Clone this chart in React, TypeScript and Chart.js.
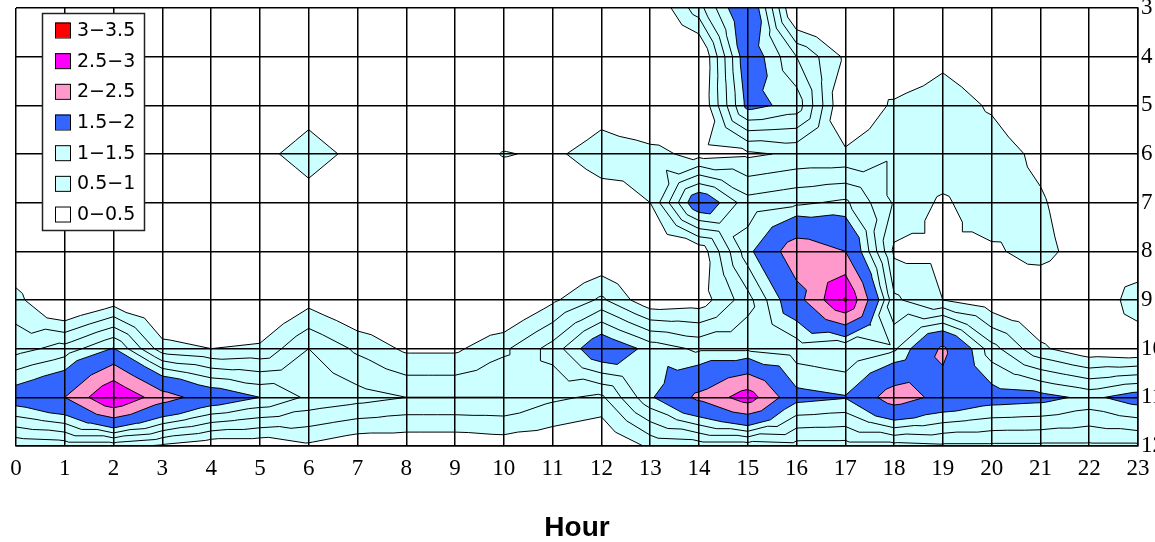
import React, { useEffect, useRef } from "react";
import { Chart, registerables } from "chart.js";

Chart.register(...registerables);

// ---- data ----
const HOURS = [0, 1, 2, 3, 4, 5, 6, 7, 8, 9, 10, 11, 12, 13, 14, 15, 16, 17, 18, 19, 20, 21, 22, 23];
const ROWS = [3, 4, 5, 6, 7, 8, 9, 10, 11, 12];

// values per row (one per hour)
const ROW_3 = [0, 0, 0, 0, 0, 0, 0, 0, 0, 0, 0, 0, 0, 0.2, 0.9, 1.9, 0.1, 0, 0, 0, 0, 0, 0, 0];
const ROW_4 = [0, 0, 0, 0, 0, 0, 0, 0, 0, 0, 0, 0, 0, 0.05, 0.15, 1.75, 1.0, 0.45, 0.15, 0.4, 0.2, 0, 0, 0];
const ROW_5 = [0, 0, 0, 0, 0, 0.1, 0.35, 0.1, 0, 0, 0, 0, 0.3, 0.1, 0.2, 1.6, 1.4, 0.2, 0.55, 0.7, 0.45, 0.1, 0, 0];
const ROW_6 = [0.1, 0.1, 0.1, 0.1, 0.1, 0.4, 0.65, 0.4, 0.1, 0.2, 0.53, 0.42, 0.7, 0.6, 0.4, 0.45, 0.55, 0.55, 0.72, 0.72, 0.7, 0.4, 0.1, 0];
const ROW_7 = [0.05, 0.05, 0.05, 0.05, 0.05, 0.1, 0.35, 0.1, 0.05, 0.05, 0.05, 0.1, 0.3, 0.5, 1.8, 1.1, 1.2, 1.3, 0.72, 0.45, 0.7, 0.55, 0.2, 0];
const ROW_8 = [0.2, 0.05, 0.05, 0.05, 0.05, 0.05, 0.05, 0.05, 0.05, 0.05, 0.05, 0.05, 0.2, 0.1, 0.3, 1.4, 2.3, 2.0, 0.45, 0.45, 0.45, 0.62, 0.3, 0.16];
const ROW_9 = [0.6, 0.05, 0.35, 0.1, 0.05, 0.1, 0.4, 0.15, 0.1, 0.1, 0.1, 0.45, 0.8, 0.3, 0.35, 0.9, 1.8, 3.05, 0.8, 0.5, 0.3, 0.2, 0.15, 0.7];
const ROW_10 = [0.9, 1.1, 1.52, 0.6, 0.5, 0.55, 1.0, 0.7, 0.45, 0.45, 0.7, 1.1, 1.8, 1.4, 1.2, 1.2, 1.1, 1.0, 1.2, 2.08, 1.1, 0.55, 0.3, 0.25];
const ROW_11 = [1.7, 2.0, 3.02, 2.2, 1.75, 1.5, 1.2, 1.1, 1.0, 1.0, 1.0, 0.8, 0.7, 1.45, 2.1, 2.75, 1.6, 1.52, 2.25, 1.85, 1.65, 1.6, 1.43, 1.65];
const ROW_12 = [0.55, 0.6, 0.6, 0.45, 0.3, 0.3, 0.45, 0.3, 0.3, 0.3, 0.35, 0.3, 0.2, 0.55, 0.6, 0.6, 0.65, 0.65, 0.65, 0.7, 0.7, 0.7, 0.7, 0.7];

const GRID = [ROW_3, ROW_4, ROW_5, ROW_6, ROW_7, ROW_8, ROW_9, ROW_10, ROW_11, ROW_12];

const FILL_LEVELS = [0.5, 1.5, 2, 2.5, 3];
const FILL_COLORS = ["#CCFFFF", "#3366FF", "#FF99CC", "#FF00FF", "#FF0000"];
const LINE_LEVELS = [0.5, 0.75, 1, 1.25, 1.5, 2, 2.5, 3];

const LEGEND_LABELS = ["3\u22123.5", "2.5\u22123", "2\u22122.5", "1.5\u22122", "1\u22121.5", "0.5\u22121", "0\u22120.5"];
const LEGEND_COLORS = ["#FF0000", "#FF00FF", "#FF99CC", "#3366FF", "#CCFFFF", "#CCFFFF", "#FFFFFF"];

// ---- layout ----
const CANVAS_W = 1200;
const CANVAS_H = 542;
const PLOT_LEFT = 16;
const PLOT_RIGHT = 1138;
const PLOT_TOP = 8;
const PLOT_BOTTOM = 446;

type P = [number, number, number];

function buildTriangles(): P[][] {
  const tris: P[][] = [];
  for (let r = 0; r < ROWS.length - 1; r++) {
    for (let c = 0; c < HOURS.length - 1; c++) {
      const a: P = [HOURS[c], ROWS[r], GRID[r][c]];
      const b: P = [HOURS[c + 1], ROWS[r], GRID[r][c + 1]];
      const d: P = [HOURS[c + 1], ROWS[r + 1], GRID[r + 1][c + 1]];
      const e: P = [HOURS[c], ROWS[r + 1], GRID[r + 1][c]];
      const m: P = [
        (HOURS[c] + HOURS[c + 1]) / 2,
        (ROWS[r] + ROWS[r + 1]) / 2,
        (a[2] + b[2] + d[2] + e[2]) / 4,
      ];
      tris.push([a, b, m], [b, d, m], [d, e, m], [e, a, m]);
    }
  }
  return tris;
}

function clipGE(poly: P[], L: number): P[] {
  const out: P[] = [];
  for (let i = 0; i < poly.length; i++) {
    const a = poly[i];
    const b = poly[(i + 1) % poly.length];
    const ain = a[2] >= L;
    const bin = b[2] >= L;
    if (ain) out.push(a);
    if (ain !== bin) {
      const t = (L - a[2]) / (b[2] - a[2]);
      out.push([a[0] + t * (b[0] - a[0]), a[1] + t * (b[1] - a[1]), L]);
    }
  }
  return out;
}

const contourPlugin = {
  id: "contour",
  beforeDraw(chart: any) {
    const { ctx, chartArea, scales } = chart;
    const xs = scales.x;
    const ys = scales.y;
    const tris = buildTriangles();
    const px = (p: P) => [xs.getPixelForValue(p[0]), ys.getPixelForValue(p[1])];
    ctx.save();
    ctx.beginPath();
    ctx.rect(chartArea.left, chartArea.top, chartArea.right - chartArea.left, chartArea.bottom - chartArea.top);
    ctx.clip();
    ctx.fillStyle = "#FFFFFF";
    ctx.fillRect(chartArea.left, chartArea.top, chartArea.right - chartArea.left, chartArea.bottom - chartArea.top);
    FILL_LEVELS.forEach((L, i) => {
      ctx.beginPath();
      for (const tri of tris) {
        const poly = clipGE(tri, L);
        if (poly.length < 3) continue;
        poly.forEach((p, k) => {
          const [x, y] = px(p);
          if (k === 0) ctx.moveTo(x, y);
          else ctx.lineTo(x, y);
        });
        ctx.closePath();
      }
      ctx.fillStyle = FILL_COLORS[i];
      ctx.fill();
    });
    ctx.beginPath();
    for (const L of LINE_LEVELS) {
      for (const tri of tris) {
        const pts: number[][] = [];
        for (let k = 0; k < 3; k++) {
          const a = tri[k];
          const b = tri[(k + 1) % 3];
          if ((a[2] < L) !== (b[2] < L)) {
            const t = (L - a[2]) / (b[2] - a[2]);
            pts.push(px([a[0] + t * (b[0] - a[0]), a[1] + t * (b[1] - a[1]), L]));
          }
        }
        if (pts.length === 2) {
          ctx.moveTo(pts[0][0], pts[0][1]);
          ctx.lineTo(pts[1][0], pts[1][1]);
        }
      }
    }
    ctx.strokeStyle = "#000000";
    ctx.lineWidth = 1;
    ctx.lineJoin = "round";
    ctx.stroke();
    ctx.restore();
  },
};

const legendPlugin = {
  id: "contourLegend",
  afterDraw(chart: any) {
    const { ctx } = chart;
    const bx = 42, by = 13, bw = 102, bh = 217;
    ctx.save();
    ctx.fillStyle = "#FFFFFF";
    ctx.fillRect(bx, by, bw, bh);
    ctx.strokeStyle = "#222222";
    ctx.lineWidth = 1.5;
    ctx.strokeRect(bx + 0.5, by + 0.5, bw, bh);
    ctx.font = "19px 'DejaVu Sans', sans-serif";
    ctx.textBaseline = "middle";
    ctx.textAlign = "left";
    LEGEND_LABELS.forEach((label, i) => {
      const cy = 30 + i * 30.67;
      ctx.fillStyle = LEGEND_COLORS[i];
      ctx.fillRect(55, cy - 7.5, 15, 15);
      ctx.strokeStyle = "#000000";
      ctx.lineWidth = 1;
      ctx.strokeRect(55.5, cy - 7, 15, 15);
      ctx.fillStyle = "#000000";
      ctx.fillText(label, 77, cy + 1);
    });
    ctx.restore();
  },
};

export default function App() {
  const canvasRef = useRef<HTMLCanvasElement | null>(null);

  useEffect(() => {
    const canvas = canvasRef.current;
    if (!canvas) return;
    const tickFont = { family: "'Liberation Serif', 'Times New Roman', serif", size: 23 };
    const chart = new Chart(canvas, {
      type: "scatter",
      data: { datasets: [{ data: [], pointRadius: 0 }] },
      options: {
        animation: false,
        responsive: false,
        devicePixelRatio: 1,
        layout: { padding: { left: PLOT_LEFT, top: PLOT_TOP, right: 0, bottom: 0 } },
        plugins: { legend: { display: false }, tooltip: { enabled: false }, title: { display: false } },
        scales: {
          x: {
            type: "linear",
            position: "bottom",
            min: HOURS[0],
            max: HOURS[HOURS.length - 1],
            ticks: { stepSize: 1, autoSkip: false, maxRotation: 0, color: "#000", font: tickFont, padding: 9 },
            grid: { color: "#000", lineWidth: 1.5, drawTicks: false },
            border: { color: "#000", width: 1.5 },
            title: {
              display: true,
              text: "Hour",
              color: "#000",
              font: { family: "'Liberation Sans', Arial, sans-serif", size: 28, weight: "bold", lineHeight: 1 },
              padding: 0,
            },
            afterFit: (s: any) => {
              s.height = CANVAS_H - PLOT_BOTTOM;
              s.paddingLeft = 0;
              s.paddingRight = 0;
            },
          },
          y: {
            type: "linear",
            position: "right",
            reverse: true,
            min: ROWS[0],
            max: ROWS[ROWS.length - 1],
            ticks: { stepSize: 1, autoSkip: false, color: "#000", font: tickFont, padding: 3 },
            grid: { color: "#000", lineWidth: 1.5, drawTicks: false },
            border: { color: "#000", width: 1.5 },
            afterFit: (s: any) => {
              s.width = CANVAS_W - PLOT_RIGHT;
              s.paddingTop = 0;
              s.paddingBottom = 0;
            },
          },
        },
      } as any,
      plugins: [contourPlugin, legendPlugin],
    });
    return () => chart.destroy();
  }, []);

  return (
    <div
      style={{
        position: "fixed",
        left: 0,
        top: 0,
        width: 1155,
        height: 542,
        overflow: "hidden",
        background: "#FFFFFF",
      }}
    >
      <canvas ref={canvasRef} width={CANVAS_W} height={CANVAS_H} style={{ display: "block", width: CANVAS_W, height: CANVAS_H }} />
    </div>
  );
}
